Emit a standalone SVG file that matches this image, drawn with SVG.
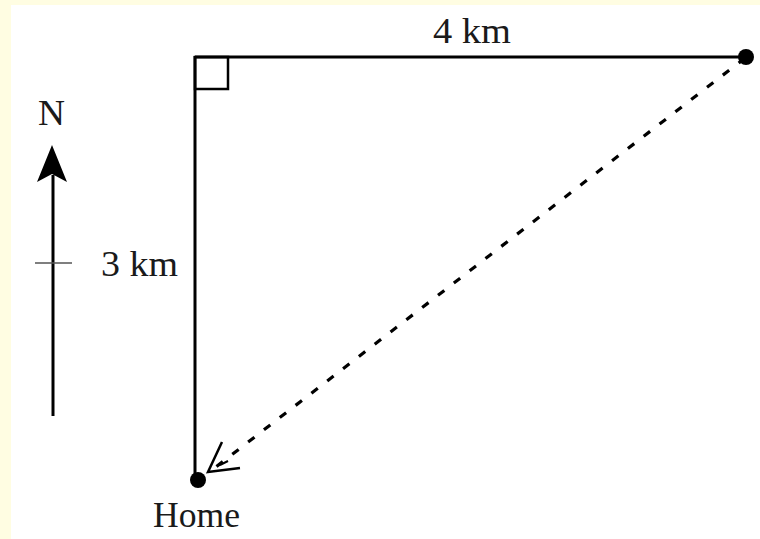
<svg xmlns="http://www.w3.org/2000/svg" width="760" height="539" viewBox="0 0 760 539">
<style>
.ln{stroke:#000;stroke-width:3;fill:none;stroke-linecap:butt}
.lbl{font-family:"Liberation Serif","Times New Roman",serif;font-size:35px;fill:#1a1a1a}
</style>
<rect x="0" y="0" width="760" height="539" fill="#fffde2"/>
<rect x="11" y="5" width="749" height="534" fill="#ffffff"/>
<g id="compass">
<line class="ln" x1="53" y1="175" x2="53" y2="416"/>
<polygon points="52,145 67,182 52,174 37,182" fill="#000"/>
<line x1="35" y1="263" x2="72" y2="263" stroke="#555" stroke-width="1.5"/>
<text class="lbl" x="38" y="125" textLength="27" lengthAdjust="spacingAndGlyphs">N</text>
</g>
<g id="connectors">
<line class="ln" x1="195" y1="57" x2="747" y2="57"/>
<line class="ln" x1="195" y1="56" x2="195" y2="480"/>
<line x1="745" y1="58" x2="212" y2="470" stroke="#000" stroke-width="3.2" stroke-dasharray="8 12"/>
<polyline points="222,442 208,472 240,468" fill="none" stroke="#000" stroke-width="2.5"/>
<path d="M228,461 L220,465" stroke="#000" stroke-width="2"/>
</g>
<g id="right-angle">
<rect x="195" y="57" width="33" height="32" fill="none" stroke="#000" stroke-width="2.5"/>
</g>
<g id="home">
<circle cx="198" cy="480" r="8" fill="#000"/>
<text class="lbl" x="153" y="527" textLength="87" lengthAdjust="spacingAndGlyphs">Home</text>
</g>
<g id="destination">
<circle cx="746" cy="57" r="8" fill="#000"/>
</g>
<g id="labels">
<text class="lbl" x="433" y="43" textLength="78" lengthAdjust="spacingAndGlyphs">4 km</text>
<text class="lbl" x="101" y="276" textLength="77" lengthAdjust="spacingAndGlyphs">3 km</text>
</g>
</svg>
